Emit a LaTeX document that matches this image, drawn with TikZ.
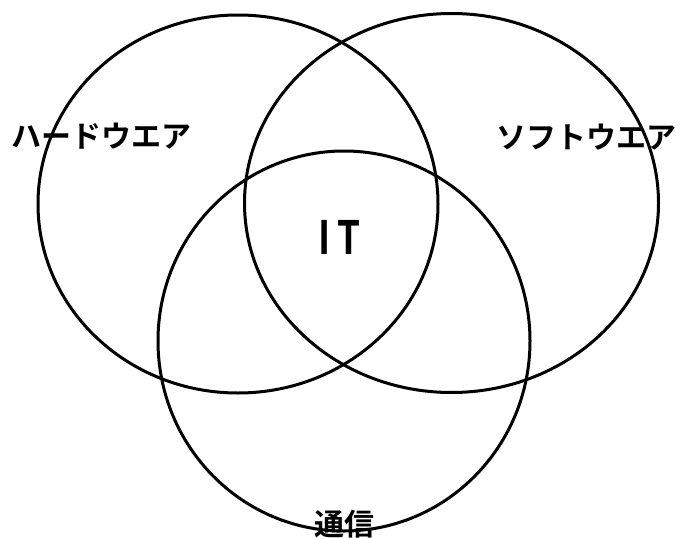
\documentclass[tikz,border=0pt]{standalone}
\usepackage{fontspec}
\newfontfamily\jpfont{Noto Sans CJK JP}[BoldFont={Noto Sans CJK JP Bold}]
\begin{document}
\begin{tikzpicture}[x=1pt,y=-1pt,
  ring/.style={draw=black,line width=3pt},
  lbl/.style={font=\jpfont\bfseries\fontsize{30}{30}\selectfont,inner sep=0pt,text=black}]
\useasboundingbox (0,0) rectangle (680,538);
\draw[ring] (238,204) ellipse [x radius=200,y radius=189];
\draw[ring] (451.5,203) ellipse [x radius=207,y radius=189.5];
\draw[ring] (344,341) ellipse [x radius=186,y radius=190];
\node[lbl] (hw) at (102,136) {ハードウエア};
\node[lbl] (sw) at (586,137) {ソフトウエア};
\node[lbl,font=\jpfont\bfseries\fontsize{46}{46}\selectfont,xscale=0.8] (it) at (339.5,237) {I\,T};
\node[lbl] (tc) at (344,524) {通信};
\end{tikzpicture}
\end{document}
